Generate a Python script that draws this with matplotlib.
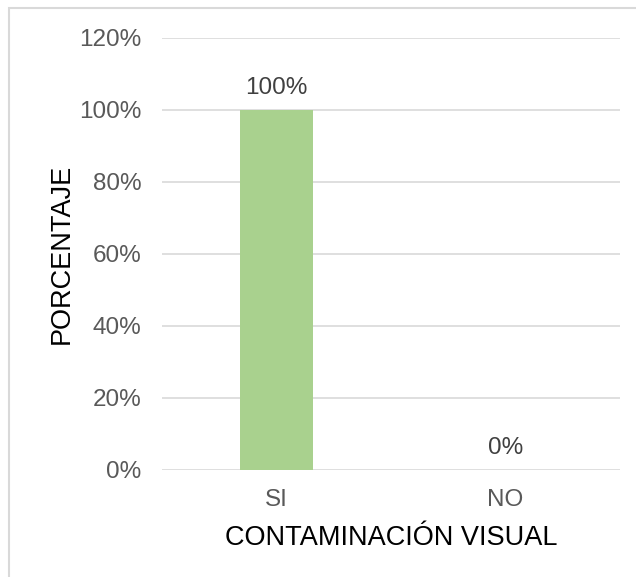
import matplotlib.pyplot as plt
from matplotlib.patches import Rectangle
from matplotlib.ticker import FuncFormatter

categories = ['SI', 'NO']
values = [100, 0]
yticks = [0, 20, 40, 60, 80, 100, 120]

plt.rcParams['font.family'] = ['Liberation Sans', 'DejaVu Sans']

fig = plt.figure(figsize=(6.36, 5.77), dpi=100)
ax = fig.add_axes([162 / 636, 1 - 470 / 577, 458 / 636, 432 / 577])

x = range(len(categories))
bars = ax.bar(x, values, width=0.315, color='#A9D18E', zorder=2)

for xi, v in zip(x, values):
    ax.annotate(f'{v}%', (xi, v), xytext=(0, 8), textcoords='offset points',
                ha='center', va='bottom', fontsize=17.5, color='#404040')

ax.set_xlim(-0.5, 1.5)
ax.set_ylim(0, 120)
ax.set_yticks(yticks)
ax.yaxis.set_major_formatter(FuncFormatter(lambda v, p: f'{v:.0f}%'))
ax.set_xticks(list(x))
ax.set_xticklabels(categories)
ax.tick_params(axis='both', length=0, labelsize=17.5, colors='#595959')
ax.tick_params(axis='y', pad=15)
ax.tick_params(axis='x', pad=14)
ax.grid(axis='y', color='#D9D9D9', linewidth=1.2, zorder=0)
for s in ax.spines.values():
    s.set_visible(False)

ax.set_xlabel('CONTAMINACIÓN VISUAL', fontsize=19.5, color='black', labelpad=10)
ax.set_ylabel('PORCENTAJE', fontsize=19.5, color='black', labelpad=3)

fig.patches.append(Rectangle((8.5 / 636, -0.1), 1.2, 1 - 7.5 / 577 + 0.1,
                             transform=fig.transFigure, fill=False,
                             edgecolor='#D9D9D9', linewidth=1.5))

fig.savefig('out.png', dpi=100)
